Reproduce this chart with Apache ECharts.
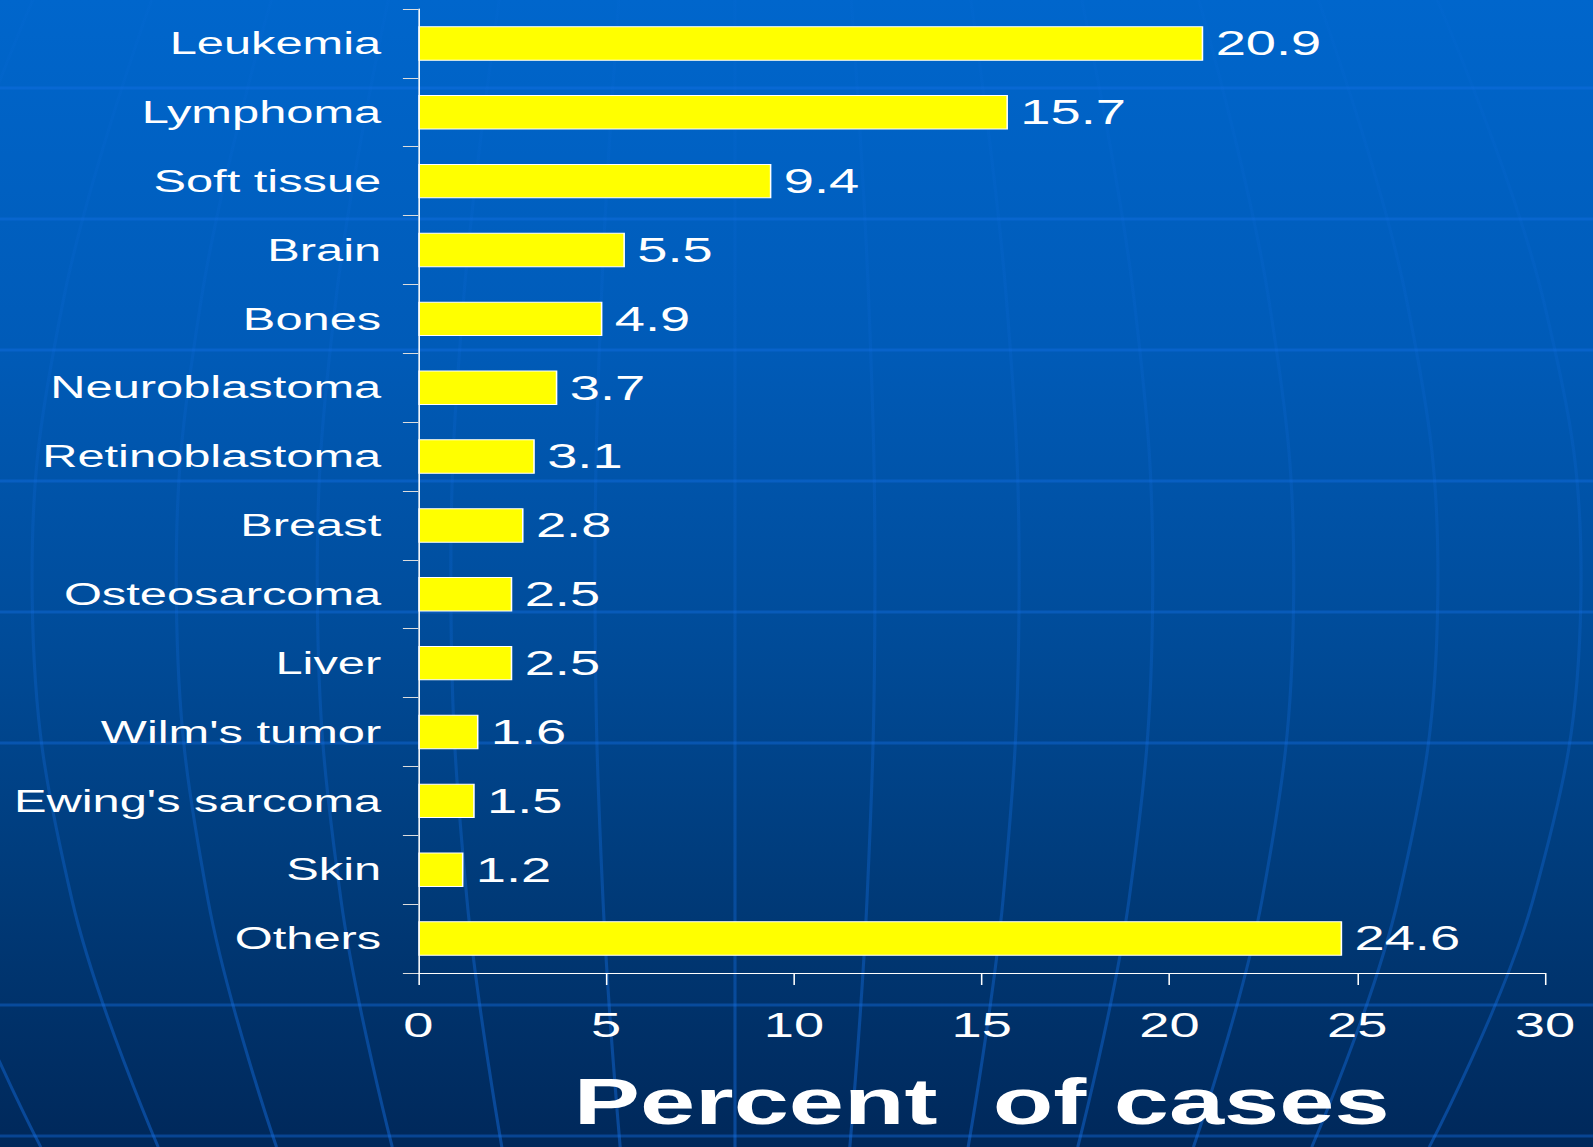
<!DOCTYPE html>
<html>
<head>
<meta charset="utf-8">
<title>Percent of cases</title>
<script src="https://cdn.jsdelivr.net/npm/echarts@6/dist/echarts.min.js"></script>
<style>
html, body {
    margin: 0;
    padding: 0;
    overflow: hidden;
    background: #003a78;
}
/* the original slide is stretched sideways, so the chart is drawn narrow and widened */
#main {
    width: 1028px;
    height: 1147px;
    transform: scaleX(1.5496);
    transform-origin: 0 0;
}
</style>
</head>
<body>
<div id="main"></div>
<script>
var categories = ["Leukemia", "Lymphoma", "Soft tissue", "Brain", "Bones", "Neuroblastoma",
    "Retinoblastoma", "Breast", "Osteosarcoma", "Liver", "Wilm's tumor", "Ewing's sarcoma",
    "Skin", "Others"];
var percents = [20.9, 15.7, 9.4, 5.5, 4.9, 3.7, 3.1, 2.8, 2.5, 2.5, 1.6, 1.5, 1.2, 24.6];
var xMin = 0;
var xMax = 30;
var xStep = 5;

var font = "'Liberation Sans', Arial, sans-serif";
var stretch = 1593 / 1028;

// background of the slide: faint horizontal bands and globe meridians
var bandY = [88, 219, 350, 481, 612, 743, 1005, 1136];
var meridianOffsets = [-798, -663, -527, -394, -268, -132, 0, 132, 268, 394, 527, 663, 798];
var meridianY = [0, 300, 600, 900, 1147];
var meridianBulge = [0.88, 1.013, 1.06, 1.0, 0.87];
var lineColor = "rgba(20,112,230,0.4)";
var meridianColor = {
    type: "linear",
    x: 0, y: 0, x2: 0, y2: 1147,
    global: true,
    colorStops: [
        { offset: 0, color: "rgba(20,112,230,0.06)" },
        { offset: 0.5, color: "rgba(20,112,230,0.2)" },
        { offset: 1, color: "rgba(20,112,230,0.45)" }
    ]
};

var decorations = [];
bandY.forEach(function (y) {
    decorations.push({
        type: "line",
        silent: true,
        z: -10,
        shape: { x1: 0, y1: y, x2: 1028, y2: y },
        style: { stroke: lineColor, lineWidth: 3 }
    });
});
meridianOffsets.forEach(function (d) {
    var pts = meridianY.map(function (y, i) {
        return [(735 + d * meridianBulge[i]) / stretch, y];
    });
    decorations.push({
        type: "polyline",
        silent: true,
        z: -10,
        shape: { points: pts, smooth: 0.4 },
        style: { stroke: meridianColor, lineWidth: 2, fill: null }
    });
});

var chart = echarts.init(document.getElementById("main"), null, { renderer: "svg" });
var option = {
    animation: false,
    backgroundColor: {
        type: "linear",
        x: 0, y: 0, x2: 0, y2: 1,
        colorStops: [
            { offset: 0, color: "#0066cc" },
            { offset: 0.3, color: "#005bb8" },
            { offset: 0.55, color: "#004c9a" },
            { offset: 0.78, color: "#003a78" },
            { offset: 1, color: "#00285a" }
        ]
    },
    graphic: decorations,
    grid: {
        left: 270,
        right: 31,
        top: 9,
        bottom: 174,
        outerBoundsMode: "none"
    },
    xAxis: {
        type: "value",
        min: xMin,
        max: xMax,
        interval: xStep,
        splitLine: { show: false },
        axisLine: { show: true, lineStyle: { color: "#ffffff", width: 1 } },
        axisTick: { show: true, length: 12, lineStyle: { color: "#ffffff" } },
        axisLabel: {
            color: "#ffffff",
            fontSize: 35,
            fontFamily: font,
            margin: 35
        },
        name: "Percent  of cases",
        nameLocation: "middle",
        nameGap: 97,
        nameTextStyle: {
            color: "#ffffff",
            fontSize: 64,
            fontWeight: "bold",
            fontFamily: font
        }
    },
    yAxis: {
        type: "category",
        data: categories,
        inverse: true,
        axisLine: { show: true, lineStyle: { color: "#ffffff", width: 1 } },
        axisTick: { show: true, length: 10, lineStyle: { color: "#dddddd" } },
        axisLabel: {
            color: "#ffffff",
            fontSize: 31.5,
            fontFamily: font,
            margin: 24
        }
    },
    series: [
        {
            type: "bar",
            data: percents,
            barWidth: "50%",
            itemStyle: {
                color: "#ffff00",
                borderColor: "#ffffff",
                borderWidth: 1
            },
            label: {
                show: true,
                position: "right",
                distance: 8,
                color: "#ffffff",
                fontSize: 35,
                fontFamily: font
            }
        }
    ]
};
chart.setOption(option);
</script>
</body>
</html>
